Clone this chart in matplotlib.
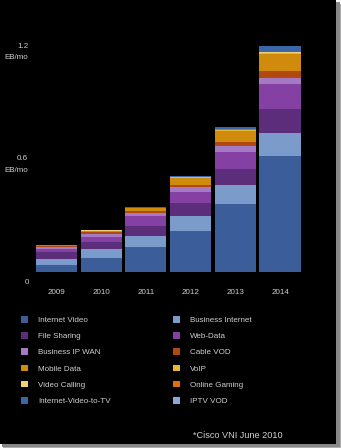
import matplotlib
matplotlib.use("Agg")
import matplotlib.pyplot as plt
from matplotlib.patches import Rectangle, Patch
import numpy as np

plt.rcParams['font.family'] = ['Liberation Sans', 'DejaVu Sans']

years = ["2009", "2010", "2011", "2012", "2013", "2014"]
series_names = ["Internet Video", "Business Internet", "File Sharing", "Web-Data",
                "Business IP WAN", "Cable VOD", "Mobile Data", "VoIP",
                "Video Calling", "Online Gaming", "Internet-Video-to-TV", "IPTV VOD"]
internet_video   = [0.035, 0.076, 0.133, 0.218, 0.363, 0.618]
business_internet = [0.034, 0.046, 0.060, 0.078, 0.099, 0.119]
file_sharing     = [0.035, 0.037, 0.053, 0.069, 0.087, 0.126]
web_data         = [0.018, 0.027, 0.050, 0.062, 0.090, 0.133]
business_ip_wan  = [0.009, 0.018, 0.019, 0.025, 0.030, 0.035]
cable_vod        = [0.005, 0.007, 0.007, 0.012, 0.023, 0.037]
mobile_data      = [0.003, 0.007, 0.016, 0.035, 0.055, 0.087]
voip             = [0.001, 0.002, 0.002, 0.003, 0.005, 0.006]
video_calling    = [0.0005, 0.001, 0.001, 0.002, 0.004, 0.006]
online_gaming    = [0.0003, 0.0005, 0.0005, 0.001, 0.001, 0.001]
internet_video_tv = [0.001, 0.002, 0.002, 0.004, 0.012, 0.034]
iptv_vod         = [0.0002, 0.0003, 0.0005, 0.0005, 0.001, 0.001]

y_ticks = [0, 0.6, 1.2]
source_text = "*Cisco VNI June 2010"

colors = ["#3b5e9a", "#7b9bcb", "#5c2d7a", "#8440a2", "#a679c4", "#b04810",
          "#d08a0c", "#e8b830", "#f0d070", "#e86a10", "#3c66aa", "#88a8dc"]

data = [internet_video, business_internet, file_sharing, web_data, business_ip_wan,
        cable_vod, mobile_data, voip, video_calling, online_gaming,
        internet_video_tv, iptv_vod]

W, H = 341, 448
fig = plt.figure(figsize=(W / 100, H / 100), dpi=100, facecolor="white")
# shadow and black slide background
fig.patches.append(Rectangle((3 / W, 0), 1 - 3 / W, 1 - 4 / H, transform=fig.transFigure,
                             facecolor="#b0b0b0", edgecolor="none", zorder=-3))
fig.patches.append(Rectangle((2 / W, 1.5 / H), 1 - 3.5 / W, 1 - 4 / H, transform=fig.transFigure,
                             facecolor="#888888", edgecolor="none", zorder=-2))
fig.patches.append(Rectangle((0, 4 / H), 336 / W, 1 - 4 / H, transform=fig.transFigure,
                             facecolor="black", edgecolor="none", zorder=-1))

ax = fig.add_axes([34.1 / W, (H - 272) / H, 268.3 / W, 226 / H])
ax.set_facecolor("none")
x = np.arange(len(years))
bottom = np.zeros(len(years))
handles = []
for name, vals, c in zip(series_names, data, colors):
    ax.bar(x, vals, bottom=bottom, width=0.92, color=c, edgecolor="none", label=name)
    bottom += np.array(vals)
    handles.append(Patch(facecolor=c, edgecolor="none", label=name))

ax.set_xlim(-0.5, 5.5)
ax.set_ylim(0, 1.2)
for s in ax.spines.values():
    s.set_visible(False)
ax.set_xticks(x)
ax.set_xticklabels(years, color="#d0d0d0", fontsize=5.8)
ax.tick_params(axis="x", length=0, pad=12)
ax.set_yticks([])

txtc = "#d0d0d0"
for t in y_ticks:
    if t == 0:
        ax.text(-0.02, t - 0.035, "0", transform=ax.get_yaxis_transform(), ha="right",
                va="top", fontsize=5.8, color=txtc)
    else:
        ax.text(-0.022, t, "%.1f" % t, transform=ax.get_yaxis_transform(), ha="right",
                va="center", fontsize=5.8, color=txtc)
        ax.text(-0.022, t - 0.06, "EB/mo", transform=ax.get_yaxis_transform(), ha="right",
                va="center", fontsize=5.8, color=txtc)

order = [0, 2, 4, 6, 8, 10, 1, 3, 5, 7, 9, 11]
leg = fig.legend([handles[i] for i in order], [series_names[i] for i in order],
                 ncol=2, loc="upper left", bbox_to_anchor=(21 / W, 1 - 316 / H),
                 frameon=False, fontsize=5.8, handlelength=0.9, handleheight=0.9,
                 handletextpad=1.25, columnspacing=7.7, labelspacing=1.0,
                 borderaxespad=0, borderpad=0)
for t in leg.get_texts():
    t.set_color(txtc)

fig.text(193 / W, 1 - 435 / H, source_text, fontsize=6.6, color=txtc, ha="left", va="center")

fig.savefig("out.png", dpi=100, facecolor=fig.get_facecolor())
